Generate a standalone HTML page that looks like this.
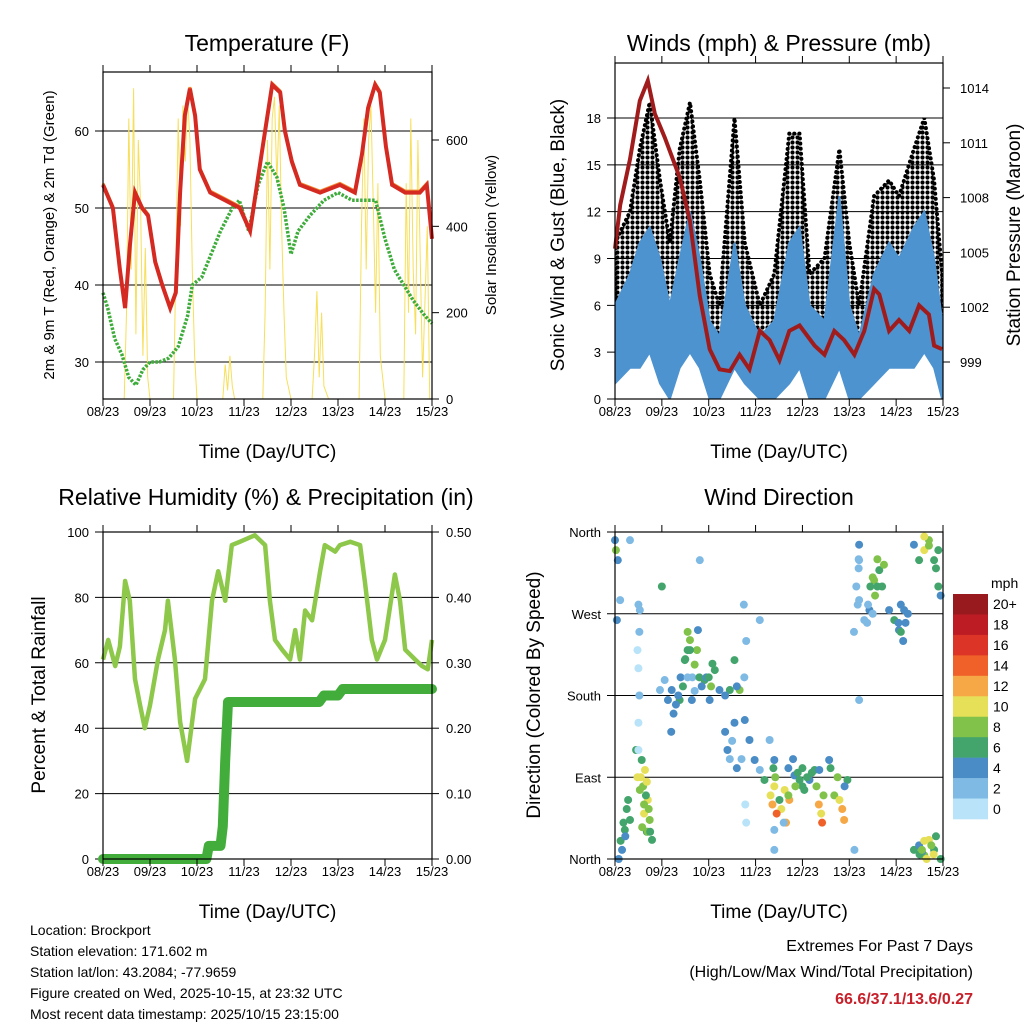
<!DOCTYPE html>
<html><head><meta charset="utf-8"><style>
html,body{margin:0;padding:0;background:#fff;}
svg{display:block;font-family:"Liberation Sans",Arial,sans-serif;}
</style></head><body>
<svg id="c" width="1024" height="1024" viewBox="0 0 1024 1024">
<defs>
<pattern id="dots" width="5" height="5" patternUnits="userSpaceOnUse"><circle cx="2.5" cy="2.5" r="2.1" fill="#000"/></pattern>
</defs>
<rect width="1024" height="1024" fill="#fff"/>
</svg>
<script>
// ---------- DATA ----------
const dayLabels = ["08/23","09/23","10/23","11/23","12/23","13/23","14/23","15/23"];
// Temperature panel
const tempDays = [0,0.21,0.36,0.47,0.57,0.68,0.83,0.96,1.11,1.26,1.43,1.55,1.64,1.74,1.85,1.96,2.06,2.28,2.6,2.91,3.13,3.3,3.45,3.6,3.77,3.87,4.02,4.19,4.62,5.04,5.36,5.51,5.64,5.79,5.89,6.02,6.15,6.43,6.74,6.89,7];
const tempF = [53,50,42,37,45,52,50,49,43,40,37,39,52,62,65.5,62,55,52,51,50,47,54,60,66,65,60,56,53,52,53,52,57,63,66,65,58,53,52,52,53,46];
const dewDays = [0,0.1,0.25,0.4,0.55,0.7,0.85,1.0,1.2,1.4,1.6,1.8,1.9,2.1,2.3,2.5,2.75,2.9,3.1,3.3,3.5,3.7,3.85,4.0,4.15,4.4,4.7,5.0,5.3,5.6,5.8,6.0,6.2,6.4,6.6,6.85,7];
const dewF = [39,37,33,31,28,27,29,30,30,30.5,32,36,40,41,44,47,50,51,47,53,56,54,50,44,47,49,51,52,51,51,51,46,42,40,38,36,35];
const solarDays = [0,0.45,0.5,0.55,0.6,0.65,0.7,0.75,0.8,0.85,0.9,0.95,1.0,1.5,1.55,1.6,1.65,1.7,1.75,1.8,1.85,1.9,1.95,2.0,2.55,2.6,2.65,2.7,2.75,2.8,3.4,3.45,3.5,3.55,3.6,3.65,3.7,3.75,3.8,3.85,3.9,4.0,4.45,4.5,4.55,4.6,4.65,4.7,4.8,5.45,5.5,5.55,5.6,5.65,5.7,5.75,5.8,5.85,5.9,6.0,6.4,6.45,6.5,6.55,6.6,6.65,6.7,6.8,6.9,6.95,7];
const solarW = [0,0,200,650,300,720,150,600,450,100,350,50,0,0,300,650,400,680,550,700,600,300,100,0,0,80,20,100,30,0,0,200,600,300,650,700,500,680,400,200,50,0,0,100,250,50,200,30,0,0,400,650,300,600,680,450,200,500,100,0,0,500,200,650,300,150,600,50,400,0,0];
const tempTicks = [30,40,50,60];
const solarTicks = [0,200,400,600];
// Wind panel
const windDays = [0,0.32,0.53,0.74,0.96,1.17,1.38,1.6,1.81,2.02,2.23,2.55,2.77,3.09,3.4,3.72,3.94,4.15,4.47,4.79,5.0,5.21,5.53,5.85,6.06,6.38,6.6,6.81,6.98];
const windLow = [1,2,2,3,1,0,2,3,2,0,0,2,1,0,0,1,2,0,0,2,0,0,1,2,2,2,3,2,0];
const windHigh = [6,8,10,11,9,6,9,12,9,5,4,10,6,4,5,10,11,6,5,13,6,4,8,10,9,11,12,9,5];
const gustLow = [4,5,8,9,6,3,7,9,6,3,2,7,4,2,2,5,7,3,3,6,3,1,4,6,5,6,7,5,2];
const gustHigh = [10,12,16,19,14,10,16,19,14,8,6,18,10,6,8,17,17,8,9,16,10,6,13,14,13,16,18,14,8];
const presDays = [0,0.11,0.32,0.53,0.7,0.85,1.06,1.38,1.6,1.81,2.02,2.23,2.45,2.66,2.87,3.09,3.3,3.51,3.72,3.94,4.26,4.47,4.68,4.89,5.11,5.32,5.53,5.64,5.85,6.06,6.28,6.49,6.7,6.81,6.98];
const presMb = [1005.2,1007.6,1010.1,1013.3,1014.4,1012.6,1011.3,1009.1,1006.7,1002.6,999.7,998.6,998.5,999.4,998.6,1000.7,1000.2,999.1,1000.7,1001,999.9,999.4,1000.7,1000.2,999.4,1000.7,1003,1002.7,1000.7,1001.3,1000.7,1002.1,1001.6,999.9,999.7];
const windTicks = [0,3,6,9,12,15,18];
const presTicks = [999,1002,1005,1008,1011,1014];
// RH panel
const rhDays = [0,0.11,0.26,0.36,0.47,0.57,0.68,0.79,0.89,1.0,1.17,1.32,1.38,1.53,1.64,1.79,1.96,2.17,2.32,2.45,2.6,2.74,2.91,3.23,3.45,3.55,3.66,3.81,3.98,4.09,4.19,4.3,4.45,4.62,4.72,4.94,5.04,5.26,5.47,5.57,5.72,5.83,6.0,6.21,6.32,6.43,6.64,6.79,6.91,7];
const rhPct = [61,67,59,65,85,79,55,47,40,47,61,70,79,61,42,30,49,55,79,88,79,96,97,99,96,79,67,64,61,70,61,76,73,88,96,94,96,97,96,85,67,61,67,87,79,64,61,59,58,67];
const precipDays = [0,2.2,2.25,2.5,2.55,2.6,2.66,4.6,4.7,5.0,5.1,7];
const precipIn = [0,0,0.02,0.02,0.05,0.15,0.24,0.24,0.25,0.25,0.26,0.26];
const rhTicks = [0,20,40,60,80,100];
const precipTicks = ["0.00","0.10","0.20","0.30","0.40","0.50"];
// Wind direction panel
const dirDays = [0,0.06,0.11,0.04,0.15,0.21,0.32,0.28,0.53,0.64,0.7,0.74,0.57,0.79,0.96,1.06,1.13,1.21,1.38,1.49,1.6,1.7,1.64,1.77,1.91,2.02,2.13,2.23,2.45,2.55,2.66,2.77,2.87,2.98,3.09,3.19,3.3,3.4,3.51,3.62,3.72,3.83,3.94,4.04,4.15,4.26,4.36,4.57,4.68,4.79,4.89,4.96,5.11,5.21,5.21,5.21,5.21,5.32,5.43,5.53,5.64,5.74,5.85,5.96,6.06,6.17,6.38,6.49,6.6,6.7,6.81,6.38,6.49,6.6,6.7,6.81,3.4,3.4,0.32,0.53,3.09,1.81,0.45,0.62,0.68,1.4,1.55,1.75,2.35,2.6,3.55,3.65,3.7,4.0,4.75,4.85,4.6,5.6,5.7,6.1,6.2,6.9,6.95,6.55,0.02,0.48,0.7,1.0,3.6,4.9,
 0.55,0.6,0.62,0.66,0.72,0.75,0.58,0.68,0.12,0.18,0.25,0.22,0.08,0.5,0.5,0.52,0.5,0.48,0.52,0.5,1.2,1.25,1.3,1.35,1.45,1.55,1.5,1.6,1.55,1.65,1.7,1.8,1.85,1.95,2.0,2.05,2.08,2.35,2.4,2.45,2.5,2.55,2.6,2.7,2.78,2.8,2.76,2.8,2.75,3.32,3.36,3.4,3.45,3.42,3.38,3.7,3.8,3.85,3.9,4.0,4.1,4.2,4.3,4.35,4.4,4.42,4.45,5.1,5.15,5.2,5.18,5.2,5.45,5.5,5.55,5.6,5.5,5.4,5.38,6.05,6.1,6.15,6.25,6.5,6.55,6.6,6.65,6.75,6.8,6.85,6.6,6.7,6.85,6.9,6.95];
const dirDeg = [351,329,285,263,10,32,43,65,76,98,65,43,109,21,186,197,175,186,175,219,241,214,175,252,197,175,208,186,186,219,186,153,131,109,98,87,131,109,65,76,65,92,87,76,87,98,98,109,70,65,43,87,10,175,285,329,346,263,274,307,318,324,274,263,252,274,346,329,340,351,329,10,15,4,21,10,10,32,351,274,263,329,120,60,30,200,230,230,180,190,55,40,70,80,90,55,100,330,300,280,260,340,0,8,340,90,30,300,40,80,
 90,80,50,70,55,30,35,85,20,40,55,25,0,120,150,180,210,230,250,280,140,160,170,180,190,200,220,230,250,200,185,200,190,200,200,190,215,140,120,110,130,150,100,110,60,40,200,240,280,70,60,80,50,90,100,100,110,80,95,100,90,95,80,60,50,40,70,250,300,320,280,330,300,310,290,300,270,280,260,260,250,240,270,5,10,20,0,15,5,25,355,345,320,300,290];
const dirSpd = [4,4,2,4,4,6,6,6,8,10,10,8,6,6,2,2,4,4,6,6,8,8,4,4,6,4,6,4,6,6,8,4,4,4,2,6,2,4,6,10,12,4,6,6,4,6,4,4,8,10,12,6,2,2,2,2,4,2,4,8,6,8,4,6,4,4,4,6,10,8,6,6,4,8,10,6,2,2,2,2,2,2,6,8,6,4,6,8,4,4,10,12,8,6,8,12,6,8,6,4,4,6,6,4,8,10,8,6,2,4,
 10,8,10,6,8,6,8,10,6,6,6,4,4,0,0,2,0,0,2,2,4,4,4,4,6,2,6,6,8,2,2,6,4,4,6,8,6,4,4,2,2,4,4,2,0,0,2,2,2,10,12,10,14,8,6,4,4,8,6,6,6,6,8,12,10,14,8,2,2,2,2,2,6,8,8,6,2,2,2,4,6,4,4,6,8,10,10,8,10,6,10,8,6,6,4];
const spdLabels = ["20+","18","16","14","12","10","8","6","4","2","0"];
const spdColors = ["#981a1e","#bd1c25","#dc3427","#ef6129","#f6a847","#e6e058","#80c24a","#43a56c","#4a8cc6","#7fbae4","#b8e3f8"];
const dirTicks = ["North","East","South","West","North"];

// ---------- DRAW ----------
const NS="http://www.w3.org/2000/svg";
const svg=document.getElementById('c');
function mk(tag,attrs,parent){const e=document.createElementNS(NS,tag);for(const k in attrs)e.setAttribute(k,attrs[k]);(parent||svg).appendChild(e);return e;}
function txt(s,x,y,size,anchor,extra,parent){const t=mk('text',Object.assign({x:x,y:y,'font-size':size,'text-anchor':anchor||'middle',fill:'#000'},extra||{}),parent);t.textContent=s;return t;}
function lin(d0,d1,p0,p1){return v=>p0+(v-d0)*(p1-p0)/(d1-d0);}
function pathOf(xs,ys,fx,fy){return xs.map((d,i)=>(i?'L':'M')+fx(d).toFixed(1)+','+fy(ys[i]).toFixed(1)).join('');}

function frame(P,name){
  const g=mk('g',{});
  
  
  return g;
}
function border(P,g){
  const r=mk('rect',{x:P.x0,y:P.y0,width:P.x1-P.x0,height:P.y1-P.y0,fill:'none',stroke:'#000','stroke-width':1.2},g);
  
  
  const fx=lin(0,7,P.x0,P.x1);
  dayLabels.forEach((l,i)=>{
    const x=fx(i);
    mk('line',{x1:x,y1:P.y1,x2:x,y2:P.y1+7,stroke:'#000','stroke-width':1},g);
    mk('line',{x1:x,y1:P.y0,x2:x,y2:P.y0-7,stroke:'#000','stroke-width':1},g);
    const t=txt(l,x,P.y1+17,13,'middle',{},g);
    
    
  });
  const xt=txt('Time (Day/UTC)',(P.x0+P.x1)/2,P.y1+59,19,'middle',{},g);
  
  
}

// Panel 1: Temperature
(function(){
  const P={x0:103,x1:432,y0:72,y1:399};
  const g=frame(P,'temperature-panel');
  const fx=lin(0,7,P.x0,P.x1), fy=lin(30,60,362,131), fs=lin(0,600,399,140);
  tempTicks.forEach(v=>{mk('line',{x1:P.x0-8,y1:fy(v),x2:P.x1,y2:fy(v),stroke:'#000','stroke-width':1},g);
    const t=txt(v,P.x0-14,fy(v)+5,13,'end',{},g);});
  solarTicks.forEach(v=>{mk('line',{x1:P.x1,y1:fs(v),x2:P.x1+7,y2:fs(v),stroke:'#000'},g);
    const t=txt(v,P.x1+14,fs(v)+5,13,'start',{},g);});
  const s=mk('path',{d:pathOf(solarDays,solarW,fx,fs),fill:'none',stroke:'#f7df5a','stroke-width':1},g);
  
  const d=mk('path',{d:pathOf(dewDays,dewF,fx,fy),fill:'none',stroke:'#3eac3a','stroke-width':3.5,'stroke-dasharray':'2.5,1.5'},g);
  
  const o=mk('path',{d:pathOf(tempDays,tempF,fx,v=>fy(v)-1.5),fill:'none',stroke:'#f08a30','stroke-width':3},g);
  
  const r=mk('path',{d:pathOf(tempDays,tempF,fx,fy),fill:'none',stroke:'#d42a22','stroke-width':4},g);
  
  border(P,g);
  const t=txt('Temperature (F)',267,51,23,'middle',{},g);
  const yl=txt('2m & 9m T (Red, Orange) & 2m Td (Green)',0,0,15,'middle',{transform:'translate(54,235) rotate(-90)'},g);
  
  const y2=txt('Solar Insolation (Yellow)',0,0,15,'middle',{transform:'translate(496,235) rotate(-90)'},g);
  
})();

// Panel 2: Winds & pressure
(function(){
  const P={x0:615,x1:943,y0:63,y1:399};
  const g=frame(P,'winds-panel');
  const fx=lin(0,7,P.x0,P.x1), fy=lin(0,18,399,118), fp=lin(999,1014,362,88);
  windTicks.forEach(v=>{if(v>0)mk('line',{x1:P.x0-8,y1:fy(v),x2:P.x1,y2:fy(v),stroke:'#000','stroke-width':1},g);
    else mk('line',{x1:P.x0-8,y1:fy(v),x2:P.x0,y2:fy(v),stroke:'#000'},g);
    const t=txt(v,P.x0-14,fy(v)+5,13,'end',{},g);});
  presTicks.forEach(v=>{mk('line',{x1:P.x1,y1:fp(v),x2:P.x1+7,y2:fp(v),stroke:'#000'},g);
    const t=txt(v,P.x1+17,fp(v)+5,13,'start',{},g);});
  const cl=mk('clipPath',{id:'clip2'},g);mk('rect',{x:P.x0,y:P.y0,width:P.x1-P.x0,height:P.y1-P.y0},cl);
  const gustPath=pathOf(windDays,gustHigh,fx,fy)+pathOf(windDays.slice().reverse(),gustLow.slice().reverse(),fx,fy).replace('M','L')+'Z';
  const gb=mk('path',{d:gustPath,fill:'url(#dots)',stroke:'#000','stroke-width':4,'stroke-dasharray':'0.1,5','stroke-linecap':'round','clip-path':'url(#clip2)'},g);
  
  const windPath=pathOf(windDays,windHigh,fx,fy)+pathOf(windDays.slice().reverse(),windLow.slice().reverse(),fx,fy).replace('M','L')+'Z';
  const wb=mk('path',{d:windPath,fill:'#4d93d0',stroke:'#4d93d0','stroke-width':2,'clip-path':'url(#clip2)'},g);
  
  const p=mk('path',{d:pathOf(presDays,presMb,fx,fp),fill:'none',stroke:'#a01c1c','stroke-width':4},g);
  
  border(P,g);
  const t=txt('Winds (mph) & Pressure (mb)',779,51,23,'middle',{},g);
  const yl=txt('Sonic Wind & Gust (Blue, Black)',0,0,19,'middle',{transform:'translate(564,235) rotate(-90)'},g);
  
  const y2=txt('Station Pressure (Maroon)',0,0,19,'middle',{transform:'translate(1020,235) rotate(-90)'},g);
  
})();

// Panel 3: RH & precip
(function(){
  const P={x0:103,x1:432,y0:532,y1:859};
  const g=frame(P,'humidity-panel');
  const fx=lin(0,7,P.x0,P.x1), fy=lin(0,100,859,532), fr=lin(0,0.5,859,532);
  rhTicks.forEach(v=>{if(v>0)mk('line',{x1:P.x0-8,y1:fy(v),x2:P.x1,y2:fy(v),stroke:'#000','stroke-width':1},g);
    else mk('line',{x1:P.x0-8,y1:fy(v),x2:P.x0,y2:fy(v),stroke:'#000'},g);
    const t=txt(v,P.x0-14,fy(v)+5,13,'end',{},g);});
  precipTicks.forEach(v=>{mk('line',{x1:P.x1,y1:fr(+v),x2:P.x1+7,y2:fr(+v),stroke:'#000'},g);
    const t=txt(v,P.x1+14,fr(+v)+5,13,'start',{},g);});
  const rh=mk('path',{d:pathOf(rhDays,rhPct,fx,fy),fill:'none',stroke:'#8dc84a','stroke-width':4.5,'stroke-linejoin':'round'},g);
  
  const pr=mk('path',{d:pathOf(precipDays,precipIn,fx,fr),fill:'none',stroke:'#43ad3c','stroke-width':10,'stroke-linecap':'round','stroke-linejoin':'round'},g);
  
  border(P,g);
  const t=txt('Relative Humidity (%) & Precipitation (in)',266,505,23,'middle',{},g);
  const yl=txt('Percent & Total Rainfall',0,0,19,'middle',{transform:'translate(45,695) rotate(-90)'},g);
  
})();

// Panel 4: Wind direction
(function(){
  const P={x0:615,x1:943,y0:532,y1:859};
  const g=frame(P,'wind-direction-panel');
  const fx=lin(0,7,P.x0,P.x1), fy=lin(0,360,859,532);
  dirTicks.forEach((l,i)=>{const v=i*90;
    if(i>0&&i<4)mk('line',{x1:P.x0-8,y1:fy(v),x2:P.x1,y2:fy(v),stroke:'#000','stroke-width':1},g);
    else mk('line',{x1:P.x0-8,y1:fy(v),x2:P.x0,y2:fy(v),stroke:'#000'},g);
    const t=txt(l,P.x0-14,fy(v)+5,13,'end',{},g);});
  dirDays.forEach((d,i)=>{
    const bin=Math.min(10,Math.floor(dirSpd[i]/2));
    const c=mk('circle',{cx:fx(d),cy:fy(dirDeg[i]),r:4,fill:spdColors[10-bin]},g);
    
    
  });
  border(P,g);
  const t=txt('Wind Direction',779,505,23,'middle',{},g);
  const yl=txt('Direction (Colored By Speed)',0,0,19,'middle',{transform:'translate(540,695) rotate(-90)'},g);
  
  const cb=mk('g',{},g);
  
  
  const bh=(819-594)/11;
  spdLabels.forEach((l,i)=>{
    const r=mk('rect',{x:953,y:594+i*bh,width:35,height:bh+0.3,fill:spdColors[i]},cb);
    
    
    const tt=txt(l,993,594+i*bh+bh/2+5,14,'start',{},cb);
    
    
  });
  const u=txt('mph',991,588,14,'start',{},cb);
})();

// Footer text
const info=["Location: Brockport","Station elevation: 171.602 m","Station lat/lon: 43.2084; -77.9659","Figure created on Wed, 2025-10-15, at 23:32 UTC","Most recent data timestamp: 2025/10/15 23:15:00"];
info.forEach((s,i)=>{const t=txt(s,30,935+i*21,14,'start');});
const e1=txt('Extremes For Past 7 Days',973,951,16,'end');
const e2=txt('(High/Low/Max Wind/Total Precipitation)',973,977,16,'end');
const e3=txt('66.6/37.1/13.6/0.27',973,1004,16,'end',{fill:'#c8202a','font-weight':'bold'});
</script>
</body></html>
